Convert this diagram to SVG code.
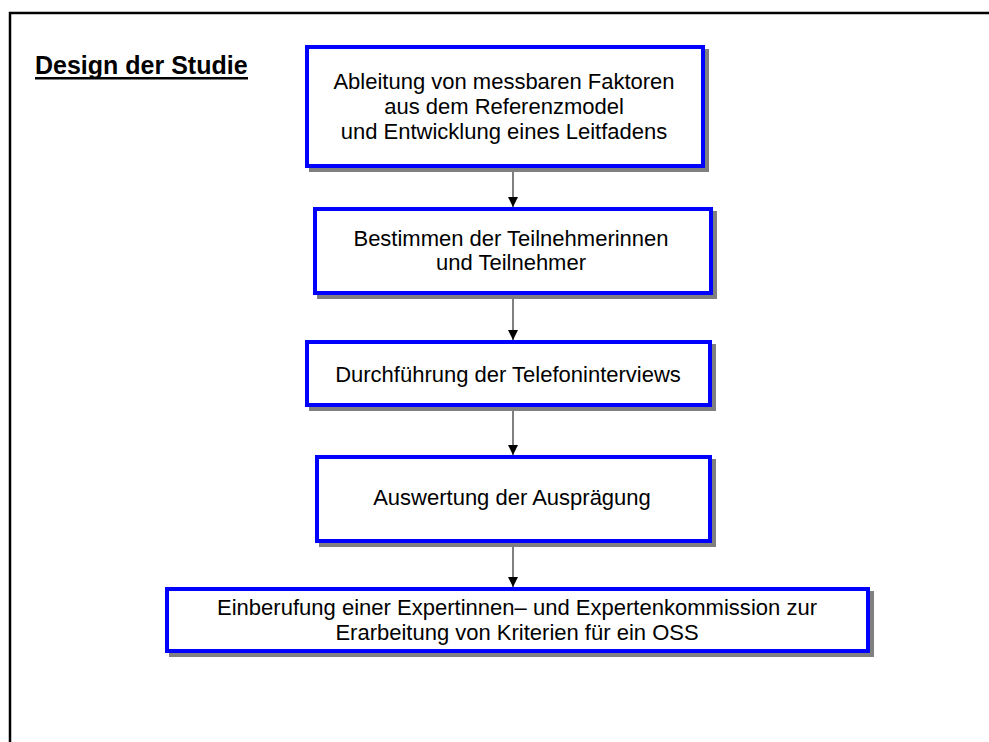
<svg xmlns="http://www.w3.org/2000/svg" width="989" height="742" viewBox="0 0 989 742">
<style>
.shadow{fill:#808080;stroke:none}
.box{fill:#ffffff;stroke:#0000ff;stroke-width:4}
.t{font-family:"Liberation Sans",Arial,sans-serif;font-size:22px;fill:#000;text-anchor:middle}
.title{font-family:"Liberation Sans",Arial,sans-serif;font-size:25px;font-weight:bold;fill:#000}
.conn{stroke:#000;stroke-width:1;fill:none}
</style>
<defs>
<marker id="arr" markerWidth="10" markerHeight="10" refX="10" refY="5" orient="auto" markerUnits="userSpaceOnUse">
<path d="M0,0 L10,5 L0,10 Z" fill="#000"/>
</marker>
</defs>
<rect width="989" height="742" fill="#fff"/>
<g id="frame">
<path d="M10,742 L10,13 L989,13" fill="none" stroke="#000" stroke-width="2.5"/>
</g>
<g id="title">
<text class="title" x="35" y="74">Design der Studie</text>
<rect x="35" y="77" width="213" height="2.5" fill="#000"/>
</g>
<g id="connectors">
<line class="conn" x1="513" y1="168" x2="513" y2="207" marker-end="url(#arr)"/>
<line class="conn" x1="513" y1="295" x2="513" y2="340" marker-end="url(#arr)"/>
<line class="conn" x1="513" y1="407" x2="513" y2="455" marker-end="url(#arr)"/>
<line class="conn" x1="513" y1="543" x2="513" y2="587" marker-end="url(#arr)"/>
</g>
<g id="node1">
<rect class="shadow" x="309" y="49" width="400" height="123"/>
<rect class="box" x="307" y="47" width="396" height="119"/>
<text class="t" x="504" y="89">Ableitung von messbaren Faktoren</text>
<text class="t" x="504" y="114">aus dem Referenzmodel</text>
<text class="t" x="504" y="139">und Entwicklung eines Leitfadens</text>
</g>
<g id="node2">
<rect class="shadow" x="317" y="211" width="400" height="88"/>
<rect class="box" x="315" y="209" width="396" height="84"/>
<text class="t" x="511" y="246">Bestimmen der Teilnehmerinnen</text>
<text class="t" x="511" y="270">und Teilnehmer</text>
</g>
<g id="node3">
<rect class="shadow" x="309" y="344" width="407" height="67"/>
<rect class="box" x="307" y="342" width="403" height="63"/>
<text class="t" x="508" y="382">Durchführung der Telefoninterviews</text>
</g>
<g id="node4">
<rect class="shadow" x="319" y="459" width="397" height="88"/>
<rect class="box" x="317" y="457" width="393" height="84"/>
<text class="t" x="512" y="505">Auswertung der Ausprägung</text>
</g>
<g id="node5">
<rect class="shadow" x="169" y="591" width="705" height="66"/>
<rect class="box" x="167" y="589" width="701" height="62"/>
<text class="t" x="517" y="615" textLength="600" lengthAdjust="spacingAndGlyphs">Einberufung einer Expertinnen– und Expertenkommission zur</text>
<text class="t" x="517" y="640">Erarbeitung von Kriterien für ein OSS</text>
</g>
</svg>
